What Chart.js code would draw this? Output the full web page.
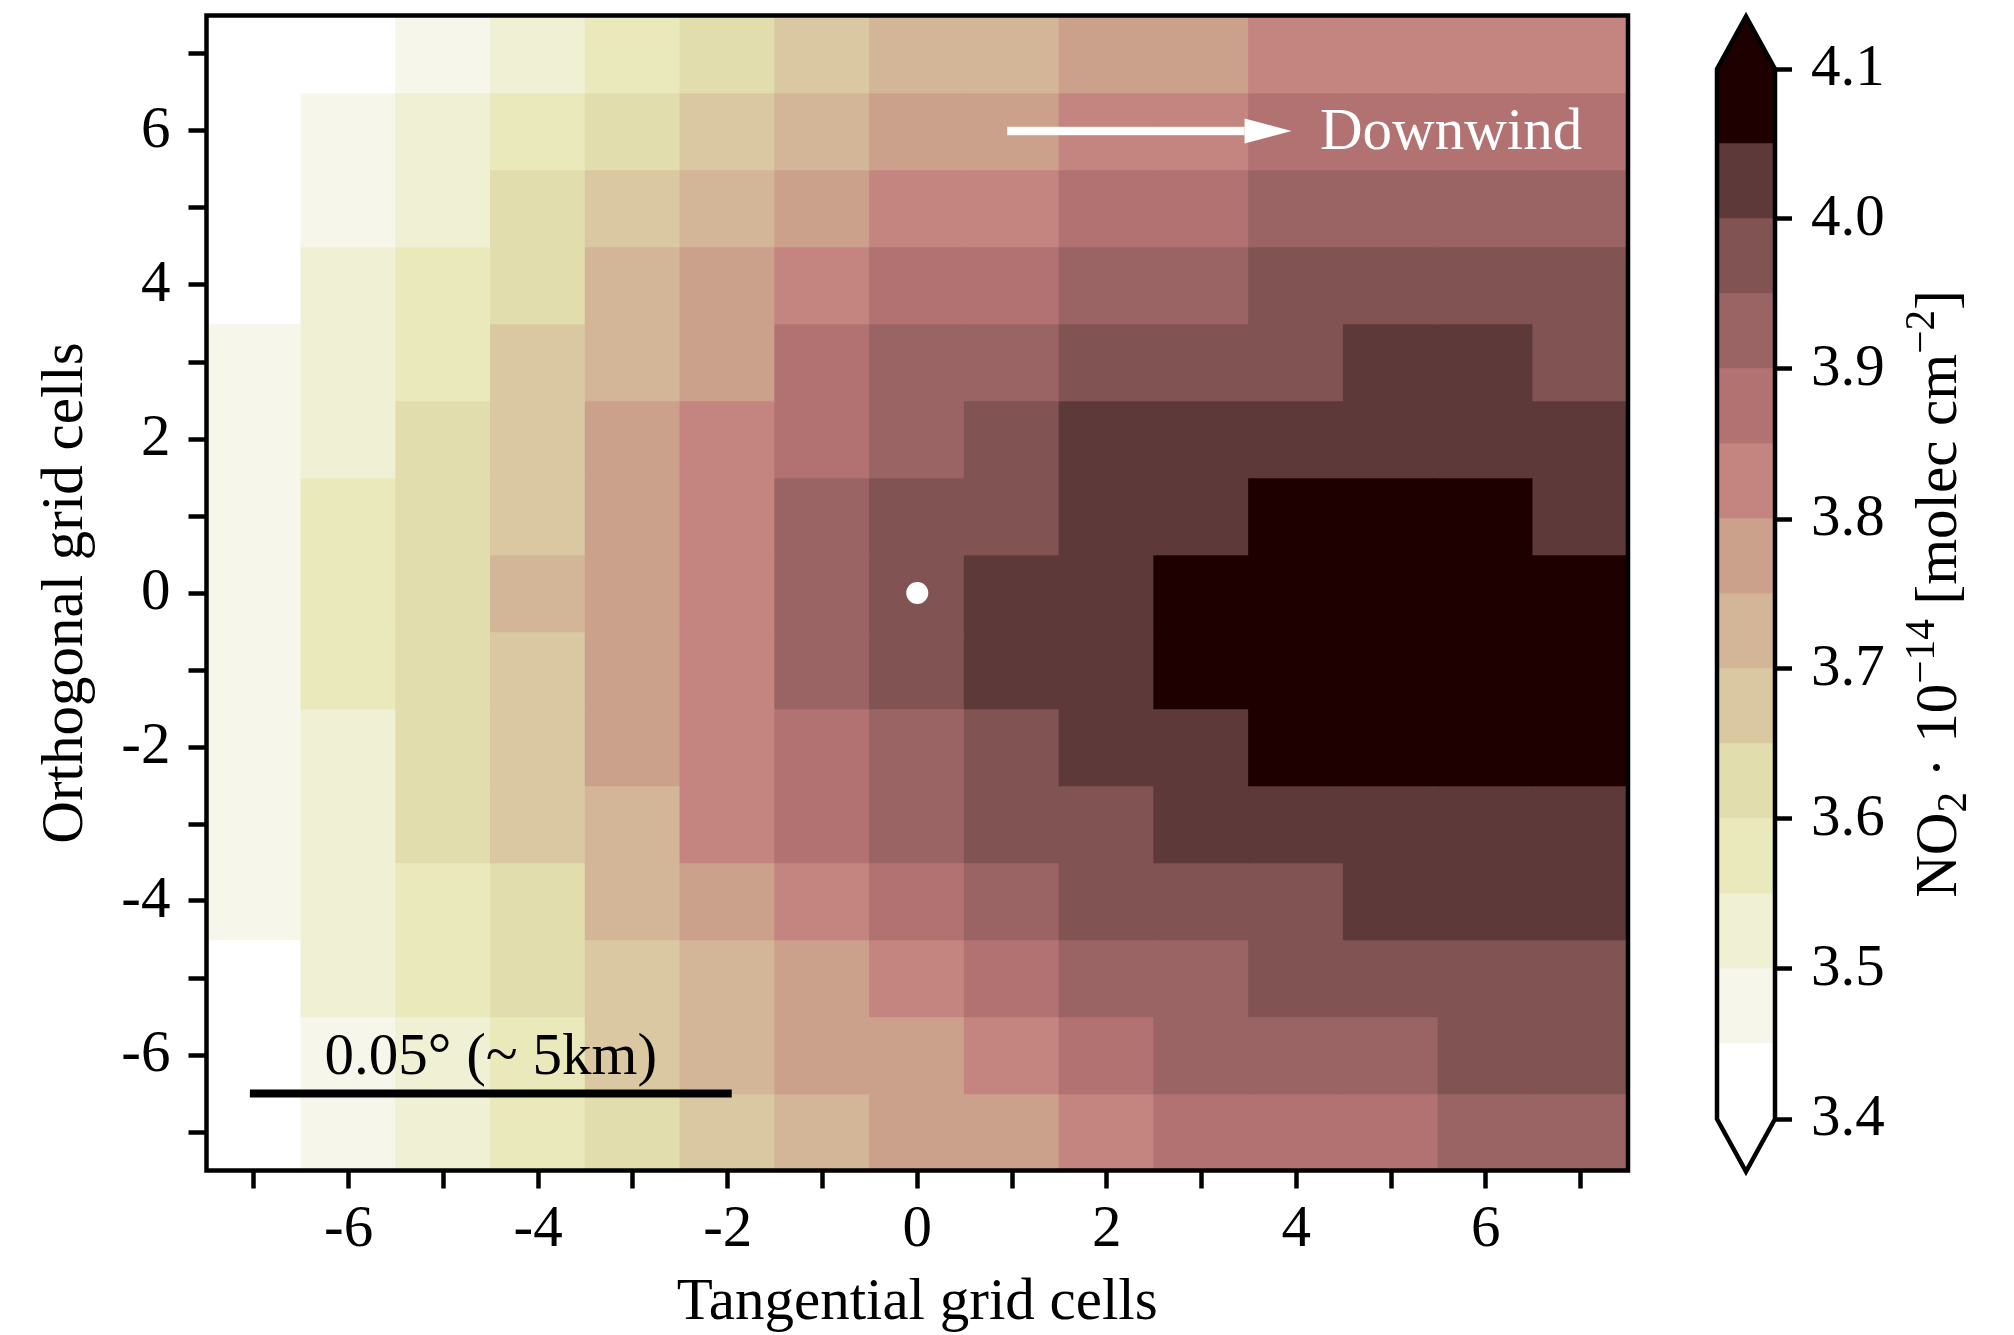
<!DOCTYPE html>
<html>
<head>
<meta charset="utf-8">
<script src="https://cdn.jsdelivr.net/npm/chart.js@4.4.0/dist/chart.umd.min.js"></script>
<style>
    html, body { margin: 0; padding: 0; background: #fff; }
    #wrap { position: relative; width: 2014px; height: 1335px; }
    #mapBox { position: absolute; left: 0; top: 0; }
    #barBox { position: absolute; left: 1680px; top: 0; }
</style>
</head>
<body>
<div id="wrap">
    <div id="mapBox"><canvas id="mapa" width="1680" height="1335"></canvas></div>
    <div id="barBox"><canvas id="barra" width="334" height="1335"></canvas></div>
</div>
<script>
//===============================================================
// =========================== DATA =============================
//===============================================================
const tangential = [-7, -6, -5, -4, -3, -2, -1, 0, 1, 2, 3, 4, 5, 6, 7];
const orthogonal = [7, 6, 5, 4, 3, 2, 1, 0, -1, -2, -3, -4, -5, -6, -7];

// NO2 * 1e-14 [molec cm-2], one row per orthogonal cell (top to bottom)
const no2 = [
    [3.42, 3.42, 3.47, 3.52, 3.57, 3.62, 3.67, 3.72, 3.72, 3.77, 3.77, 3.82, 3.82, 3.82, 3.82],
    [3.42, 3.47, 3.52, 3.57, 3.62, 3.67, 3.72, 3.77, 3.77, 3.82, 3.82, 3.87, 3.87, 3.87, 3.87],
    [3.42, 3.47, 3.52, 3.62, 3.67, 3.72, 3.77, 3.82, 3.82, 3.87, 3.87, 3.92, 3.92, 3.92, 3.92],
    [3.42, 3.52, 3.57, 3.62, 3.72, 3.77, 3.82, 3.87, 3.87, 3.92, 3.92, 3.97, 3.97, 3.97, 3.97],
    [3.47, 3.52, 3.57, 3.67, 3.72, 3.77, 3.87, 3.92, 3.92, 3.97, 3.97, 3.97, 4.02, 4.02, 3.97],
    [3.47, 3.52, 3.62, 3.67, 3.77, 3.82, 3.87, 3.92, 3.97, 4.02, 4.02, 4.02, 4.02, 4.02, 4.02],
    [3.47, 3.57, 3.62, 3.67, 3.77, 3.82, 3.92, 3.97, 3.97, 4.02, 4.02, 4.07, 4.07, 4.07, 4.02],
    [3.47, 3.57, 3.62, 3.72, 3.77, 3.82, 3.92, 3.97, 4.02, 4.02, 4.07, 4.07, 4.07, 4.07, 4.07],
    [3.47, 3.57, 3.62, 3.67, 3.77, 3.82, 3.92, 3.97, 4.02, 4.02, 4.07, 4.07, 4.07, 4.07, 4.07],
    [3.47, 3.52, 3.62, 3.67, 3.77, 3.82, 3.87, 3.92, 3.97, 4.02, 4.02, 4.07, 4.07, 4.07, 4.07],
    [3.47, 3.52, 3.62, 3.67, 3.72, 3.82, 3.87, 3.92, 3.97, 3.97, 4.02, 4.02, 4.02, 4.02, 4.02],
    [3.47, 3.52, 3.57, 3.62, 3.72, 3.77, 3.82, 3.87, 3.92, 3.97, 3.97, 3.97, 4.02, 4.02, 4.02],
    [3.42, 3.52, 3.57, 3.62, 3.67, 3.72, 3.77, 3.82, 3.87, 3.92, 3.92, 3.97, 3.97, 3.97, 3.97],
    [3.42, 3.47, 3.52, 3.57, 3.67, 3.72, 3.77, 3.77, 3.82, 3.87, 3.92, 3.92, 3.92, 3.97, 3.97],
    [3.42, 3.47, 3.52, 3.57, 3.62, 3.67, 3.72, 3.77, 3.77, 3.82, 3.87, 3.87, 3.87, 3.92, 3.92]
];

const sourcePoint = [{ x: 0, y: 0 }];

// colour classes of the colorbar
const levels = [3.40, 3.45, 3.50, 3.55, 3.60, 3.65, 3.70, 3.75, 3.80, 3.85, 3.90, 3.95, 4.00, 4.05, 4.10];
const levelColors = [
    "#ffffff", "#f6f6ea", "#f0f0d4", "#eae9bb", "#e1ddad", "#dac8a2", "#d3b597",
    "#cca18c", "#c4847f", "#b27272", "#9a6464", "#825353", "#5d393a", "#1e0000"
];
const underColor = "#ffffff";
const overColor = "#1e0000";

const xTicks = [-7, -6, -5, -4, -3, -2, -1, 0, 1, 2, 3, 4, 5, 6, 7];
const yTicks = [-7, -6, -5, -4, -3, -2, -1, 0, 1, 2, 3, 4, 5, 6, 7];
const colorbarTicks = [3.4, 3.5, 3.6, 3.7, 3.8, 3.9, 4.0, 4.1];

// annotations (data coordinates)
const windArrow = { x0: 0.95, x1: 3.95, y: 6 };
const windLabel = { x: 4.25, y: 5.77, text: "Downwind" };
const scaleBar = { x0: -7, x1: -2, y: -6.5 };
const scaleLabel = { x: -4.5, y: -6.25, text: "0.05° (~ 5km)" };

//===============================================================
// ========================== FUNCTIONS =========================
//===============================================================
const FONT = "Liberation Serif";
const FS = 59;

Chart.defaults.font.family = FONT;
Chart.defaults.color = "#000";

function colorOf(v) {
    if (v < levels[0]) return underColor;
    if (v >= levels[levels.length - 1]) return overColor;
    for (let i = 0; i < levelColors.length; i++) {
        if (v < levels[i + 1]) return levelColors[i];
    }
    return overColor;
}

// fixed axis box, no extra label overhang padding
function fixAxis(size) {
    return s => {
        if (s.isHorizontal()) s.height = size; else s.width = size;
        s.paddingTop = 0;
        s.paddingBottom = 0;
        s.paddingLeft = 0;
        s.paddingRight = 0;
    };
}

const axisGrid = {
    drawOnChartArea: false,
    drawTicks: true,
    tickLength: 18,
    tickWidth: 4.5,
    tickColor: "#000",
    offset: false
};

//===============================================================
// ========================= HEATMAP ============================
//===============================================================
const rowDatasets = orthogonal.map((yv, r) => ({
    type: "bar",
    data: tangential.map(xv => ({ x: xv, y: [yv - 0.5, yv + 0.5] })),
    backgroundColor: no2[r].map(colorOf),
    borderWidth: 0,
    inflateAmount: 0.8,
    barPercentage: 1,
    categoryPercentage: 1,
    grouped: false,
    order: 2
}));

const annotationPlugin = {
    id: "annotations",
    afterDatasetsDraw(chart) {
        const { ctx, chartArea, scales: { x, y } } = chart;
        ctx.save();

        // arrow
        const ax0 = x.getPixelForValue(windArrow.x0);
        const ax1 = x.getPixelForValue(windArrow.x1);
        const ay = y.getPixelForValue(windArrow.y);
        ctx.fillStyle = "#fff";
        ctx.fillRect(ax0, ay - 4.2, (ax1 - 47) - ax0, 8.4);
        ctx.beginPath();
        ctx.moveTo(ax1 - 47, ay - 12.5);
        ctx.lineTo(ax1, ay);
        ctx.lineTo(ax1 - 47, ay + 12.5);
        ctx.closePath();
        ctx.fill();

        ctx.font = `${FS}px "${FONT}"`;
        ctx.textAlign = "left";
        ctx.textBaseline = "alphabetic";
        ctx.fillText(windLabel.text, x.getPixelForValue(windLabel.x), y.getPixelForValue(windLabel.y));

        // scale bar
        ctx.strokeStyle = "#000";
        ctx.lineWidth = 8;
        ctx.lineCap = "square";
        ctx.beginPath();
        ctx.moveTo(x.getPixelForValue(scaleBar.x0), y.getPixelForValue(scaleBar.y));
        ctx.lineTo(x.getPixelForValue(scaleBar.x1), y.getPixelForValue(scaleBar.y));
        ctx.stroke();

        ctx.fillStyle = "#000";
        ctx.textAlign = "center";
        ctx.fillText(scaleLabel.text, x.getPixelForValue(scaleLabel.x), y.getPixelForValue(scaleLabel.y));

        // frame
        ctx.lineCap = "butt";
        ctx.lineWidth = 4.5;
        ctx.strokeRect(chartArea.left, chartArea.top, chartArea.right - chartArea.left, chartArea.bottom - chartArea.top);
        ctx.restore();
    }
};

new Chart(document.getElementById("mapa"), {
    type: "bar",
    data: {
        datasets: [
            ...rowDatasets,
            {
                type: "scatter",
                data: sourcePoint,
                pointRadius: 11,
                pointHoverRadius: 11,
                backgroundColor: "#fff",
                borderWidth: 0,
                order: 0
            }
        ]
    },
    options: {
        responsive: false,
        animation: false,
        devicePixelRatio: 1,
        layout: { padding: { top: 15.5, right: 52, left: 0, bottom: 0 } },
        plugins: { legend: { display: false }, tooltip: { enabled: false } },
        scales: {
            x: {
                type: "linear",
                min: -7.5,
                max: 7.5,
                offset: false,
                grid: axisGrid,
                border: { display: false },
                afterBuildTicks: s => { s.ticks = xTicks.map(v => ({ value: v })); },
                afterFit: fixAxis(164.5),
                ticks: {
                    autoSkip: false,
                    maxRotation: 0,
                    padding: 12,
                    font: { size: FS, lineHeight: 1 },
                    callback: v => (v % 2 === 0 ? String(v) : "")
                },
                title: {
                    display: true,
                    text: "Tangential grid cells",
                    font: { size: FS, lineHeight: 1 },
                    padding: { top: 0, bottom: 2.5 }
                }
            },
            y: {
                type: "linear",
                min: -7.5,
                max: 7.5,
                grid: axisGrid,
                border: { display: false },
                afterBuildTicks: s => { s.ticks = yTicks.map(v => ({ value: v })); },
                afterFit: fixAxis(206.5),
                ticks: {
                    autoSkip: false,
                    padding: 18,
                    font: { size: FS, lineHeight: 1 },
                    callback: v => (v % 2 === 0 ? String(v) : "")
                },
                title: {
                    display: true,
                    text: "Orthogonal grid cells",
                    font: { size: FS, lineHeight: 1 },
                    padding: { top: 36.5, bottom: 0 }
                }
            }
        }
    },
    plugins: [annotationPlugin]
});

//===============================================================
// ========================= COLORBAR ===========================
//===============================================================
const colorbarDatasets = levelColors.map((cor, i) => ({
    data: [[levels[i], levels[i + 1]]],
    backgroundColor: cor,
    borderWidth: 0,
    inflateAmount: 0.8,
    barPercentage: 1,
    categoryPercentage: 1,
    grouped: false
}));

const labelParts = [
    { t: "NO", s: 1, dy: 0 },
    { t: "2", s: 0.7, dy: 0.17 },
    { t: " · 10", s: 1, dy: 0 },
    { t: "\u221214", s: 0.7, dy: -0.38 },
    { t: " [molec cm", s: 1, dy: 0 },
    { t: "\u22122", s: 0.7, dy: -0.38 },
    { t: "]", s: 1, dy: 0 }
];

const colorbarPlugin = {
    id: "colorbarExtras",
    afterDatasetsDraw(chart) {
        const { ctx, chartArea: { left, right, top, bottom }, scales: { y } } = chart;
        const ext = 0.05 * (bottom - top);
        const mid = (left + right) / 2;
        ctx.save();

        ctx.fillStyle = overColor;
        ctx.beginPath();
        ctx.moveTo(left, top + 0.5);
        ctx.lineTo(mid, top - ext);
        ctx.lineTo(right, top + 0.5);
        ctx.closePath();
        ctx.fill();

        ctx.fillStyle = underColor;
        ctx.beginPath();
        ctx.moveTo(left, bottom);
        ctx.lineTo(mid, bottom + ext);
        ctx.lineTo(right, bottom);
        ctx.closePath();
        ctx.fill();

        ctx.strokeStyle = "#000";
        ctx.lineWidth = 4.5;
        ctx.lineJoin = "miter";
        ctx.beginPath();
        ctx.moveTo(left, top);
        ctx.lineTo(mid, top - ext);
        ctx.lineTo(right, top);
        ctx.lineTo(right, bottom);
        ctx.lineTo(mid, bottom + ext);
        ctx.lineTo(left, bottom);
        ctx.closePath();
        ctx.stroke();

        // rotated label with sub/superscripts
        const cx = y.right - 58;
        const cy = (top + bottom) / 2;
        ctx.translate(cx, cy);
        ctx.rotate(-Math.PI / 2);
        ctx.fillStyle = "#000";
        ctx.textBaseline = "alphabetic";
        ctx.textAlign = "left";
        let total = 0;
        labelParts.forEach(p => {
            ctx.font = `${FS * p.s}px "${FONT}"`;
            total += ctx.measureText(p.t).width;
        });
        let pos = -total / 2;
        labelParts.forEach(p => {
            ctx.font = `${FS * p.s}px "${FONT}"`;
            ctx.fillText(p.t, pos, p.dy * FS);
            pos += ctx.measureText(p.t).width;
        });
        ctx.restore();
    }
};

new Chart(document.getElementById("barra"), {
    type: "bar",
    data: { labels: [""], datasets: colorbarDatasets },
    options: {
        responsive: false,
        animation: false,
        devicePixelRatio: 1,
        layout: { padding: { left: 37, top: 69, bottom: 216, right: 0 } },
        plugins: { legend: { display: false }, tooltip: { enabled: false } },
        scales: {
            x: { display: false },
            y: {
                position: "right",
                min: 3.4,
                max: 4.1,
                grid: { drawOnChartArea: false, drawTicks: true, tickLength: 17, tickWidth: 4.5, tickColor: "#000" },
                border: { display: false },
                afterBuildTicks: s => { s.ticks = colorbarTicks.map(v => ({ value: v })); },
                afterFit: fixAxis(239),
                ticks: {
                    padding: 19,
                    font: { size: FS, lineHeight: 1 },
                    callback: v => Number(v).toFixed(1)
                }
            }
        }
    },
    plugins: [colorbarPlugin]
});
</script>
</body>
</html>
